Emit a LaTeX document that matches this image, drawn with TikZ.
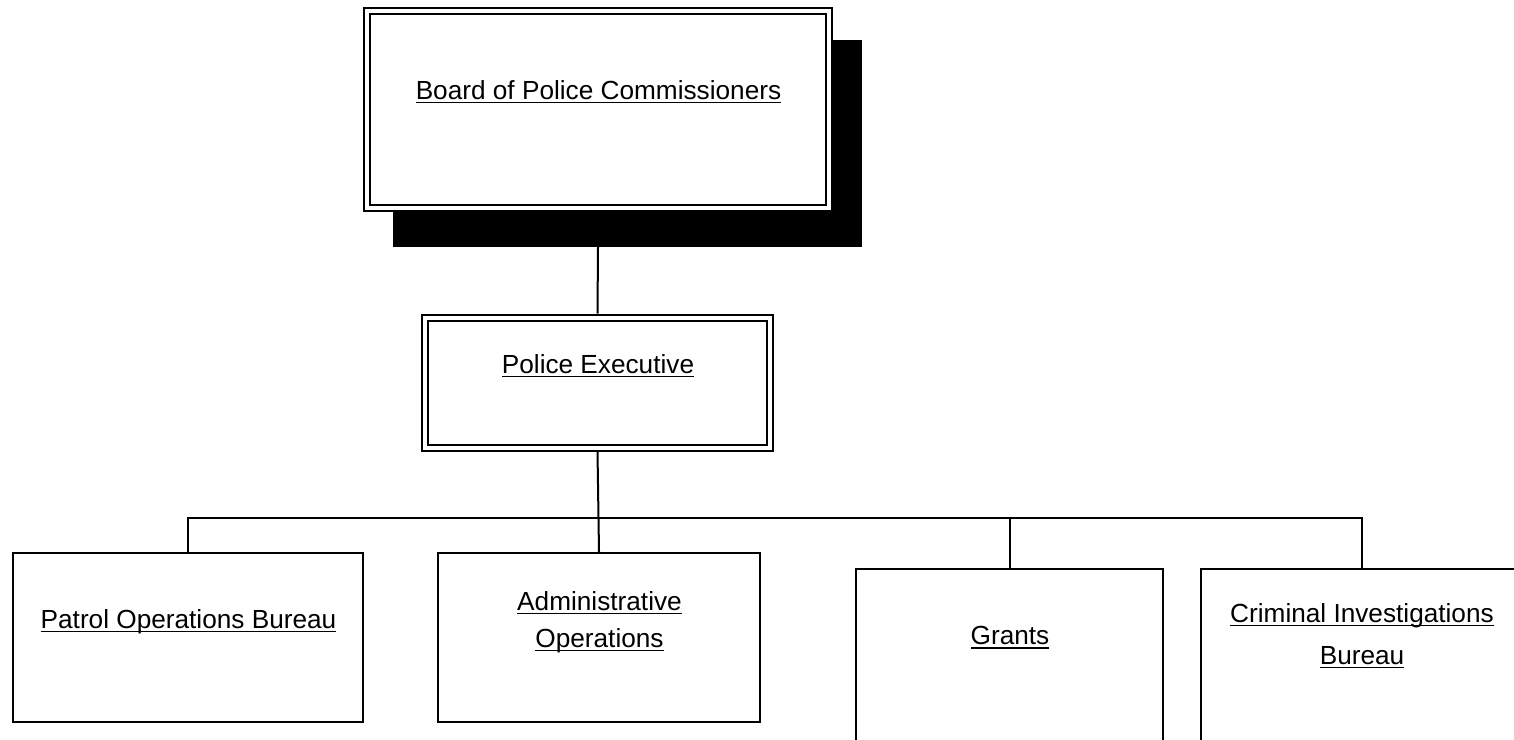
\documentclass[tikz,border=0pt]{standalone}
\usepackage{fontspec}
\setmainfont{Liberation Sans}
\usepackage{tikz}
\usetikzlibrary{calc,positioning}

% underlined text, rule a little below the baseline
\newcommand{\undl}[1]{\setbox0\hbox{#1}\rlap{\rule[-4pt]{\wd0}{1.5pt}}\box0}

\tikzset{
  chief/.style={draw, line width=2pt, double, double distance=4pt, outer sep=4pt, inner sep=0pt, fill=white},
  dept/.style={draw, line width=2pt, inner sep=0pt},
  boxtext/.style={anchor=north, inner sep=0pt, align=center, font=\fontsize{26.2}{37}\selectfont},
  link/.style={line width=2pt}
}

\begin{document}
\begin{tikzpicture}[x=1pt, y=-1pt]
\useasboundingbox (0,0) rectangle (1514,739);

% Shadow behind the board
\fill[black] (393,40) rectangle (862,247);

% Boxes
\node[chief, minimum width=462pt, minimum height=196.5pt] (board) at (598,109.25) {};
\node[chief, minimum width=345pt, minimum height=130pt] (exec) at (597.5,382.5) {};
\node[dept, minimum width=350pt, minimum height=169pt] (patrol) at (188,637.5) {};
\node[dept, minimum width=322pt, minimum height=169pt] (admin) at (599,637.5) {};
\node[dept, minimum width=307pt, minimum height=176pt] (grants) at (1009.5,657) {};
\node[dept, minimum width=322pt, minimum height=176pt] (crim) at (1362,657) {};

% Labels
\node[boxtext] (board-t) at (598.5,80) {\undl{Board of Police Commissioners}};
\node[boxtext] (exec-t) at (598,354) {\undl{Police Executive}};
\node[boxtext] (patrol-t) at (188.5,609) {\undl{Patrol Operations Bureau}};
\node[boxtext] (admin-t) at (599.5,591) {\undl{Administrative}\\\undl{Operations}};
\node[boxtext] (grants-t) at (1010,626) {\undl{Grants}};
\node[boxtext] (crim-t) at (1362,603) {\undl{Criminal Investigations}\\[5pt]\undl{Bureau}};

% Lines
\coordinate (bus) at (0,518);
\draw[link] (board.south |- 0,247) -- (exec.north);
\draw[link] (exec.south) -- (admin.north);
\draw[link] (patrol.north) -- (patrol.north |- bus) -- (crim.north |- bus) -- (crim.north);
\draw[link] (grants.north) -- (grants.north |- bus);

\end{tikzpicture}
\end{document}
